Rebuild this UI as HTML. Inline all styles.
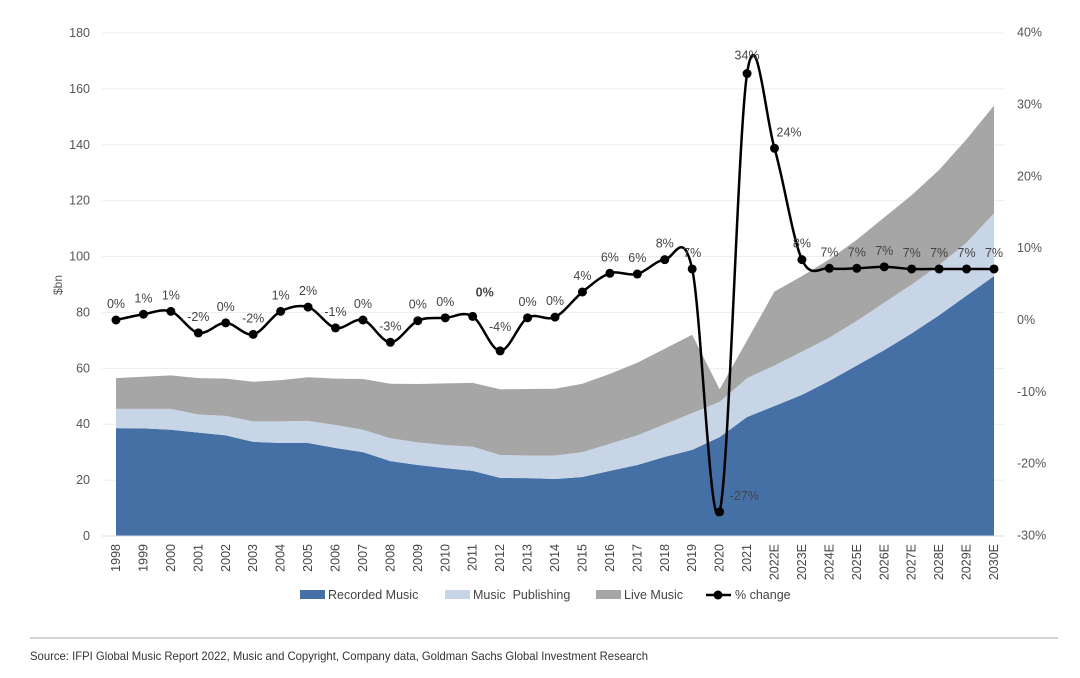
<!DOCTYPE html>
<html><head><meta charset="utf-8"><style>
body{margin:0;background:#fff;font-family:"Liberation Sans",sans-serif;}
svg text{font-family:"Liberation Sans",sans-serif;}
</style></head><body>
<svg id="c" width="1080" height="673"></svg>
<script>
const categories=["1998","1999","2000","2001","2002","2003","2004","2005","2006","2007","2008","2009","2010","2011","2012","2013","2014","2015","2016","2017","2018","2019","2020","2021","2022E","2023E","2024E","2025E","2026E","2027E","2028E","2029E","2030E"];
const recorded=[38.6,38.5,38,37,36,33.7,33.3,33.3,31.5,30,26.8,25.4,24.3,23.3,20.8,20.7,20.4,21.1,23.3,25.4,28.3,30.8,35.4,42.6,46.5,50.5,55.5,61,66.5,72.5,79,86,93];
const publishing=[6.9,7,7.5,6.5,7,7.3,7.7,7.9,8.2,8,8.2,8.1,8.2,8.7,8.2,8.1,8.4,8.9,9.7,10.6,11.7,13.2,12.6,13.9,14.5,15.5,15.5,16,17,17.5,18,19,22.5];
const live=[11,11.5,12,13,13.3,14.2,14.8,15.6,16.6,18.2,19.5,20.9,22.1,22.8,23.5,23.8,23.9,24.5,25,26,27,28,4.5,13.5,26.5,27,28,29,30.5,32,34,37,38.5];
const pctChange=[0,0.8,1.2,-1.8,-0.4,-2,1.2,1.8,-1.1,0,-3.1,-0.1,0.3,0.5,-4.3,0.3,0.4,3.9,6.5,6.4,8.4,7.1,-26.7,34.3,23.9,8.4,7.2,7.2,7.4,7.1,7.1,7.1,7.1];
const pctLabels=["0%","1%","1%","-2%","0%","-2%","1%","2%","-1%","0%","-3%","0%","0%","0%","-4%","0%","0%","4%","6%","6%","8%","7%","-27%","34%","24%","8%","7%","7%","7%","7%","7%","7%","7%"];
const leftTicks=[0,20,40,60,80,100,120,140,160,180];
const rightTicks=[-30,-20,-10,0,10,20,30,40];

const NS="http://www.w3.org/2000/svg";
const svg=document.getElementById('c');
function el(t,a,p){const e=document.createElementNS(NS,t);for(const k in a)e.setAttribute(k,a[k]);(p||svg).appendChild(e);return e;}
const x=i=>116+i*(994-116)/(categories.length-1);
const yL=v=>536-v*(503/180);
const yR=p=>320-p*(503/70);

leftTicks.forEach(t=>{
  const g=el('line',{x1:102,x2:1005,y1:yL(t),y2:yL(t),stroke:'#eeeeee','stroke-width':1});
  
  
  const tx=el('text',{x:90,y:yL(t)+4,'text-anchor':'end','font-size':12.5,fill:'#555'});
  tx.textContent=t;
  
  
});
rightTicks.forEach(t=>{
  const tx=el('text',{x:1017,y:yR(t)+4,'text-anchor':'start','font-size':12.5,fill:'#555'});
  tx.textContent=t+'%';
  
  
});
const yt=el('text',{x:62,y:285,'font-size':12,fill:'#555',transform:'rotate(-90 62 285)','text-anchor':'middle'});
yt.textContent='$bn';



const base=categories.map(()=>0);
function area(vals,color,name){
  const top=base.map((b,i)=>b+vals[i]);
  let d='M'+x(0)+','+yL(base[0]);
  top.forEach((v,i)=>d+=' L'+x(i)+','+yL(v));
  for(let i=base.length-1;i>=0;i--)d+=' L'+x(i)+','+yL(base[i]);
  const p=el('path',{d:d+'Z',fill:color});
  
  
  top.forEach((v,i)=>base[i]=v);
}
area(recorded,'#4470a6','recorded-music-area');
area(publishing,'#c8d5e6','music-publishing-area');
area(live,'#a6a6a6','live-music-area');

el('line',{x1:102,x2:1005,y1:536,y2:536,stroke:'#ddd'});
categories.forEach((c,i)=>{
  const t=el('text',{x:0,y:0,'font-size':12.5,fill:'#444','text-anchor':'end',transform:`translate(${x(i)+4},544) rotate(-90)`});
  t.textContent=c;
  
  
});

const pts=pctChange.map((p,i)=>[x(i),yR(p)]);
let d='M'+pts[0];
for(let i=0;i<pts.length-1;i++){
  const p0=pts[Math.max(0,i-1)],p1=pts[i],p2=pts[i+1],p3=pts[Math.min(pts.length-1,i+2)];
  const c1=[p1[0]+(p2[0]-p0[0])/6,p1[1]+(p2[1]-p0[1])/6],c2=[p2[0]-(p3[0]-p1[0])/6,p2[1]-(p3[1]-p1[1])/6];
  d+=` C${c1} ${c2} ${p2}`;
}
const ln=el('path',{d,fill:'none',stroke:'#000','stroke-width':2.5});


pts.forEach((p,i)=>{
  const m=el('circle',{cx:p[0],cy:p[1],r:4.5,fill:'#000'});
  
  
  let lx=p[0],ly=p[1]-12,anc='middle';
  if(categories[i]==='2020'){lx=p[0]+10;ly=p[1]-12;anc='start';}
  if(categories[i]==='2022E'){lx=p[0]+2;ly=p[1]-12;anc='start';}
  if(categories[i]==='2021'){ly=p[1]-14;}
  if(categories[i]==='2012'){ly=p[1]-20;}
  const t=el('text',{x:lx,y:ly,'font-size':12.5,fill:'#444','text-anchor':anc,'font-weight':categories[i]==='2011'?'bold':'normal'});
  if(categories[i]==='2011'){t.setAttribute('x',p[0]+12);t.setAttribute('y',p[1]-20);}
  t.textContent=pctLabels[i];
  
  
});

const lg=el('g',{});


[['#4470a6','Recorded Music',300],['#c8d5e6','Music  Publishing',445],['#a6a6a6','Live Music',596]].forEach(([c,n,lx])=>{
  const r=el('rect',{x:lx,y:590,width:25,height:9,fill:c},lg);
  
  
  const t=el('text',{x:lx+28,y:599,'font-size':12.5,fill:'#444',style:'white-space:pre'},lg);
  t.textContent=n;
  
  
});
el('line',{x1:706,x2:731,y1:595,y2:595,stroke:'#000','stroke-width':2.5},lg);
el('circle',{cx:718,cy:595,r:4.5,fill:'#000'},lg);
const lt=el('text',{x:735,y:599,'font-size':12.5,fill:'#444'},lg);
lt.textContent='% change';



el('line',{x1:30,x2:1058,y1:638,y2:638,stroke:'#aaa','stroke-width':1});
const s=el('text',{x:30,y:660,'font-size':12,fill:'#333',textLength:618,lengthAdjust:'spacingAndGlyphs'});
s.textContent='Source: IFPI Global Music Report 2022, Music and Copyright, Company data, Goldman Sachs Global Investment Research';


</script>
</body></html>
